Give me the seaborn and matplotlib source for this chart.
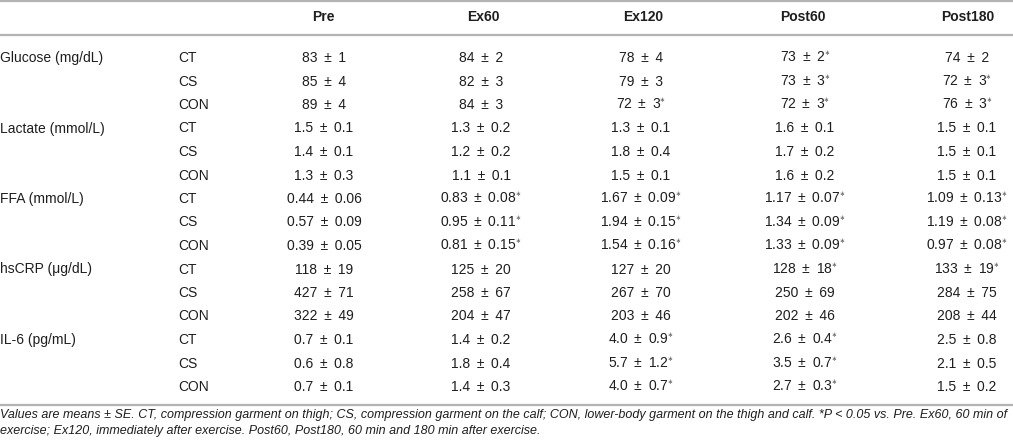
import numpy as np
import matplotlib
matplotlib.use("Agg")
import matplotlib.pyplot as plt
import seaborn as sns

times = ["Pre", "Ex60", "Ex120", "Post60", "Post180"]
groups = ["CT", "CS", "CON"]
variables = ["Glucose (mg/dL)", "Lactate (mmol/L)", "FFA (mmol/L)", "hsCRP (μg/dL)", "IL-6 (pg/mL)"]
decimals = [0, 1, 2, 0, 1]

glucose_mean = [[83, 84, 78, 73, 74], [85, 82, 79, 73, 72], [89, 84, 72, 72, 76]]
glucose_se = [[1, 2, 4, 2, 2], [4, 3, 3, 3, 3], [4, 3, 3, 3, 3]]
glucose_sig = [[0, 0, 0, 1, 0], [0, 0, 0, 1, 1], [0, 0, 1, 1, 1]]

lactate_mean = [[1.5, 1.3, 1.3, 1.6, 1.5], [1.4, 1.2, 1.8, 1.7, 1.5], [1.3, 1.1, 1.5, 1.6, 1.5]]
lactate_se = [[0.1, 0.2, 0.1, 0.1, 0.1], [0.1, 0.2, 0.4, 0.2, 0.1], [0.3, 0.1, 0.1, 0.2, 0.1]]
lactate_sig = [[0, 0, 0, 0, 0], [0, 0, 0, 0, 0], [0, 0, 0, 0, 0]]

ffa_mean = [[0.44, 0.83, 1.67, 1.17, 1.09], [0.57, 0.95, 1.94, 1.34, 1.19], [0.39, 0.81, 1.54, 1.33, 0.97]]
ffa_se = [[0.06, 0.08, 0.09, 0.07, 0.13], [0.09, 0.11, 0.15, 0.09, 0.08], [0.05, 0.15, 0.16, 0.09, 0.08]]
ffa_sig = [[0, 1, 1, 1, 1], [0, 1, 1, 1, 1], [0, 1, 1, 1, 1]]

crp_mean = [[118, 125, 127, 128, 133], [427, 258, 267, 250, 284], [322, 204, 203, 202, 208]]
crp_se = [[19, 20, 20, 18, 19], [71, 67, 70, 69, 75], [49, 47, 46, 46, 44]]
crp_sig = [[0, 0, 0, 1, 1], [0, 0, 0, 0, 0], [0, 0, 0, 0, 0]]

il6_mean = [[0.7, 1.4, 4.0, 2.6, 2.5], [0.6, 1.8, 5.7, 3.5, 2.1], [0.7, 1.4, 4.0, 2.7, 1.5]]
il6_se = [[0.1, 0.2, 0.9, 0.4, 0.8], [0.8, 0.4, 1.2, 0.7, 0.5], [0.1, 0.3, 0.7, 0.3, 0.2]]
il6_sig = [[0, 0, 1, 1, 0], [0, 0, 1, 1, 0], [0, 0, 1, 1, 0]]

footnote = ("Values are means ± SE. CT, compression garment on thigh; CS, compression garment on the calf; "
            "CON, lower-body garment on the thigh and calf. *P < 0.05 vs. Pre. Ex60, 60 min of\n"
            "exercise; Ex120, immediately after exercise. Post60, Post180, 60 min and 180 min after exercise.")

means = [glucose_mean, lactate_mean, ffa_mean, crp_mean, il6_mean]
ses = [glucose_se, lactate_se, ffa_se, crp_se, il6_se]
sigs = [glucose_sig, lactate_sig, ffa_sig, crp_sig, il6_sig]

sns.set_theme(style="white")
plt.rcParams["font.family"] = ["Liberation Sans", "DejaVu Sans"]
plt.rcParams["mathtext.fontset"] = "custom"
plt.rcParams["mathtext.rm"] = "Liberation Sans"
plt.rcParams["mathtext.it"] = "Liberation Sans:italic"
plt.rcParams["mathtext.bf"] = "Liberation Sans:bold"

W, H = 1013, 445
fig = plt.figure(figsize=(W / 100, H / 100), dpi=100)
ax = fig.add_axes([0, 0, 1, 1])
ax.set_xlim(0, W)
ax.set_ylim(H, 0)
ax.axis("off")

txt = "#1e1e1e"
rule = "#b3b3b3"
col_x = [324, 481, 641, 805, 967]
head_x = [323, 483, 643, 803, 968]
row0, dy = 58, 23.5

for x, t in zip(head_x, times):
    ax.text(x, 17, t, ha="center", va="center", fontsize=10, fontweight="bold", color=txt)

for v, name in enumerate(variables):
    for g, grp in enumerate(groups):
        y = row0 + (v * 3 + g) * dy
        if g == 0:
            ax.text(0, y, name, ha="left", va="center", fontsize=10, color=txt)
        ax.text(178, y, grp, ha="left", va="center", fontsize=10, color=txt)
        for c in range(len(times)):
            d = decimals[v]
            s = f"{means[v][g][c]:.{d}f} \u2009±\u2009 {ses[v][g][c]:.{d}f}"
            if sigs[v][g][c]:
                s += r"$^{\ast}$"
            ax.text(col_x[c], y, s, ha="center", va="center", fontsize=10, color=txt)

for y in [0.8, 34.5, 405]:
    ax.axhline(y, color=rule, lw=1.6)

ax.text(0, 423, footnote, ha="left", va="center", fontsize=9.0, style="italic",
        color=txt, linespacing=1.5)

fig.savefig("out.png", dpi=100)
